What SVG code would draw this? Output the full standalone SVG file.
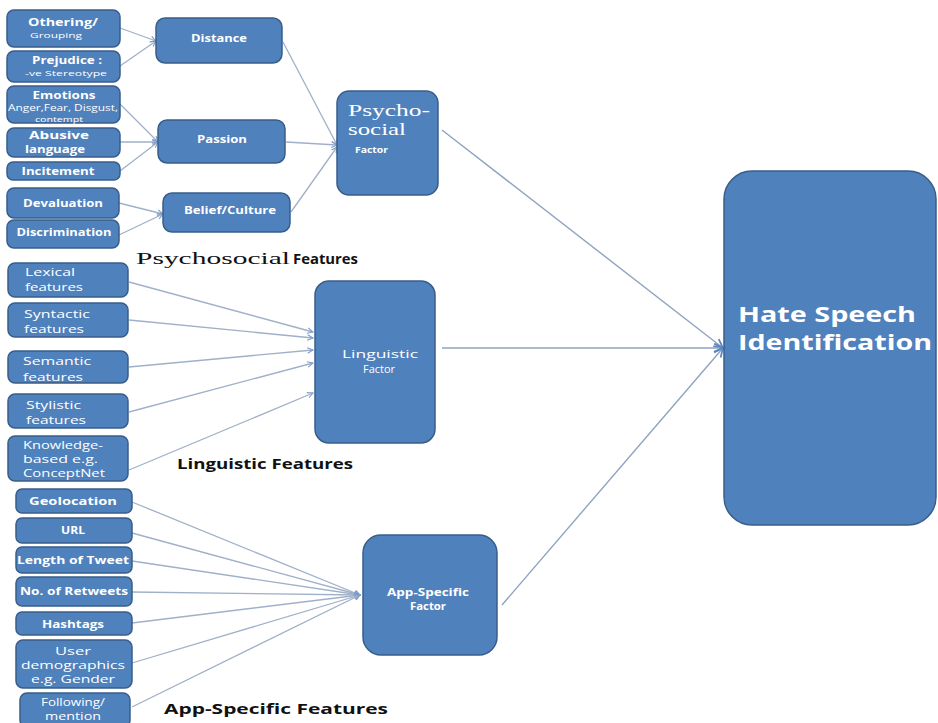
<svg xmlns="http://www.w3.org/2000/svg" width="938" height="723" viewBox="0 0 938 723">
  <defs>
    <marker id="arr" viewBox="0 0 10 10" refX="9" refY="5" markerWidth="7" markerHeight="7" orient="auto" markerUnits="userSpaceOnUse">
      <path d="M1,1 L9,5 L1,9" fill="none" stroke="#7f9cc8" stroke-width="1.6"/>
    </marker>
    <marker id="arrBig" viewBox="0 0 10 10" refX="9" refY="5" markerWidth="11" markerHeight="11" orient="auto" markerUnits="userSpaceOnUse">
      <path d="M1,1 L9,5 L1,9" fill="none" stroke="#5a86c0" stroke-width="1.6"/>
    </marker>
  </defs>
  <style>
    .box { fill: #4f81bd; stroke: #385d8a; stroke-width: 1.5; }
    .lnk { fill: none; stroke: #9fb0c8; stroke-width: 1.3; }
    .main { fill: none; stroke: #8fa3c0; stroke-width: 1.4; }
    .t { fill: #ffffff; font-family: "Open Sans", "Liberation Sans", sans-serif; }
    .b { font-weight: bold; }
    .c { text-anchor: middle; }
    .hd { fill: #111111; font-family: "Open Sans", "Liberation Sans", sans-serif; font-weight: bold; }
    .serif { font-family: "Liberation Serif", "DejaVu Serif", serif; }
  </style>
  <rect width="938" height="723" fill="#ffffff"/>

  <!-- connectors -->
  <g id="connectors">
    <line class="lnk" x1="120" y1="28" x2="156" y2="41" marker-end="url(#arr)"/>
    <line class="lnk" x1="120" y1="66" x2="156" y2="41" marker-end="url(#arr)"/>
    <line class="lnk" x1="120" y1="104" x2="158" y2="142" marker-end="url(#arr)"/>
    <line class="lnk" x1="120" y1="142" x2="158" y2="142" marker-end="url(#arr)"/>
    <line class="lnk" x1="120" y1="171" x2="158" y2="142" marker-end="url(#arr)"/>
    <line class="lnk" x1="119" y1="203" x2="163" y2="214" marker-end="url(#arr)"/>
    <line class="lnk" x1="119" y1="235" x2="163" y2="214" marker-end="url(#arr)"/>
    <line class="lnk" x1="283" y1="42" x2="337" y2="145" marker-end="url(#arr)"/>
    <line class="lnk" x1="286" y1="142" x2="337" y2="145" marker-end="url(#arr)"/>
    <line class="lnk" x1="291" y1="212" x2="337" y2="147" marker-end="url(#arr)"/>

    <line class="lnk" x1="129" y1="282" x2="313" y2="332" marker-end="url(#arr)"/>
    <line class="lnk" x1="129" y1="320" x2="313" y2="338" marker-end="url(#arr)"/>
    <line class="lnk" x1="129" y1="367" x2="313" y2="350" marker-end="url(#arr)"/>
    <line class="lnk" x1="129" y1="412" x2="313" y2="363" marker-end="url(#arr)"/>
    <line class="lnk" x1="129" y1="470" x2="313" y2="393" marker-end="url(#arr)"/>

    <line class="lnk" x1="132" y1="502" x2="360" y2="595" marker-end="url(#arr)"/>
    <line class="lnk" x1="132" y1="533" x2="360" y2="595" marker-end="url(#arr)"/>
    <line class="lnk" x1="132" y1="561" x2="360" y2="595" marker-end="url(#arr)"/>
    <line class="lnk" x1="132" y1="592" x2="360" y2="595" marker-end="url(#arr)"/>
    <line class="lnk" x1="132" y1="623" x2="360" y2="595" marker-end="url(#arr)"/>
    <line class="lnk" x1="132" y1="663" x2="360" y2="595" marker-end="url(#arr)"/>
    <line class="lnk" x1="132" y1="707" x2="360" y2="595" marker-end="url(#arr)"/>

    <line class="main" x1="442" y1="130" x2="723" y2="348" marker-end="url(#arrBig)"/>
    <line class="main" x1="442" y1="348" x2="723" y2="348" stroke="#6f8db5" marker-end="url(#arrBig)"/>
    <line class="main" x1="502" y1="605" x2="723" y2="348" marker-end="url(#arrBig)"/>
  </g>

  <!-- psychosocial feature boxes -->
  <g id="othering">
    <rect class="box" x="7" y="10" width="113" height="37" rx="7"/>
    <text class="t b c" x="63" y="26" font-size="11" textLength="70" lengthAdjust="spacingAndGlyphs">Othering/</text>
    <text class="t c" x="56" y="38" font-size="8" textLength="52" lengthAdjust="spacingAndGlyphs">Grouping</text>
  </g>
  <g id="prejudice">
    <rect class="box" x="7" y="51" width="113" height="31" rx="7"/>
    <text class="t b c" x="67" y="64" font-size="11" textLength="70" lengthAdjust="spacingAndGlyphs">Prejudice :</text>
    <text class="t c" x="66" y="76" font-size="8" textLength="82" lengthAdjust="spacingAndGlyphs">-ve Stereotype</text>
  </g>
  <g id="emotions">
    <rect class="box" x="7" y="86" width="113" height="37" rx="7"/>
    <text class="t b c" x="64" y="99" font-size="11" textLength="63" lengthAdjust="spacingAndGlyphs">Emotions</text>
    <text class="t c" x="63" y="111" font-size="9" textLength="110" lengthAdjust="spacingAndGlyphs">Anger,Fear, Disgust,</text>
    <text class="t c" x="59" y="122" font-size="8" textLength="48" lengthAdjust="spacingAndGlyphs">contempt</text>
  </g>
  <g id="abusive">
    <rect class="box" x="7" y="128" width="113" height="29" rx="7"/>
    <text class="t b c" x="59" y="139" font-size="11" textLength="60" lengthAdjust="spacingAndGlyphs">Abusive</text>
    <text class="t b c" x="55" y="153" font-size="11" textLength="60" lengthAdjust="spacingAndGlyphs">language</text>
  </g>
  <g id="incitement">
    <rect class="box" x="7" y="162" width="113" height="18" rx="6"/>
    <text class="t b c" x="58" y="175" font-size="11" textLength="73" lengthAdjust="spacingAndGlyphs">Incitement</text>
  </g>
  <g id="devaluation">
    <rect class="box" x="7" y="188" width="112" height="30" rx="7"/>
    <text class="t b c" x="63" y="207" font-size="11" textLength="80" lengthAdjust="spacingAndGlyphs">Devaluation</text>
  </g>
  <g id="discrimination">
    <rect class="box" x="7" y="220" width="112" height="28" rx="7"/>
    <text class="t b c" x="64" y="236" font-size="11" textLength="95" lengthAdjust="spacingAndGlyphs">Discrimination</text>
  </g>

  <!-- intermediate psychosocial nodes -->
  <g id="distance">
    <rect class="box" x="156" y="18" width="126" height="45" rx="9"/>
    <text class="t b c" x="219" y="42" font-size="10" textLength="56" lengthAdjust="spacingAndGlyphs">Distance</text>
  </g>
  <g id="passion">
    <rect class="box" x="158" y="120" width="127" height="43" rx="9"/>
    <text class="t b c" x="222" y="143" font-size="10" textLength="50" lengthAdjust="spacingAndGlyphs">Passion</text>
  </g>
  <g id="belief">
    <rect class="box" x="163" y="193" width="127" height="39" rx="9"/>
    <text class="t b c" x="230" y="214" font-size="10" textLength="92" lengthAdjust="spacingAndGlyphs">Belief/Culture</text>
  </g>
  <g id="psychosocial-factor">
    <rect class="box" x="337" y="91" width="101" height="104" rx="12"/>
    <text class="serif" fill="#ffffff" x="348" y="116" font-size="16" textLength="82" lengthAdjust="spacingAndGlyphs">Psycho-</text>
    <text class="serif" fill="#ffffff" x="348" y="135" font-size="16" textLength="58" lengthAdjust="spacingAndGlyphs">social</text>
    <text class="t b" x="355" y="153" font-size="8.5" textLength="33" lengthAdjust="spacingAndGlyphs">Factor</text>
  </g>

  <!-- linguistic feature boxes -->
  <g id="lexical">
    <rect class="box" x="8" y="263" width="120" height="34" rx="7"/>
    <text class="t" x="25" y="276" font-size="11" textLength="50" lengthAdjust="spacingAndGlyphs">Lexical</text>
    <text class="t" x="25" y="291" font-size="11" textLength="58" lengthAdjust="spacingAndGlyphs">features</text>
  </g>
  <g id="syntactic">
    <rect class="box" x="8" y="303" width="120" height="34" rx="7"/>
    <text class="t" x="24" y="318" font-size="11" textLength="66" lengthAdjust="spacingAndGlyphs">Syntactic</text>
    <text class="t" x="24" y="333" font-size="11" textLength="60" lengthAdjust="spacingAndGlyphs">features</text>
  </g>
  <g id="semantic">
    <rect class="box" x="8" y="351" width="120" height="32" rx="7"/>
    <text class="t" x="23" y="365" font-size="11" textLength="68" lengthAdjust="spacingAndGlyphs">Semantic</text>
    <text class="t" x="23" y="381" font-size="11" textLength="60" lengthAdjust="spacingAndGlyphs">features</text>
  </g>
  <g id="stylistic">
    <rect class="box" x="8" y="394" width="120" height="34" rx="7"/>
    <text class="t" x="26" y="409" font-size="11" textLength="55" lengthAdjust="spacingAndGlyphs">Stylistic</text>
    <text class="t" x="26" y="424" font-size="11" textLength="60" lengthAdjust="spacingAndGlyphs">features</text>
  </g>
  <g id="knowledge">
    <rect class="box" x="8" y="436" width="120" height="45" rx="7"/>
    <text class="t" x="23" y="449" font-size="11" textLength="80" lengthAdjust="spacingAndGlyphs">Knowledge-</text>
    <text class="t" x="23" y="463" font-size="11" textLength="75" lengthAdjust="spacingAndGlyphs">based e.g.</text>
    <text class="t" x="23" y="477" font-size="11" textLength="82" lengthAdjust="spacingAndGlyphs">ConceptNet</text>
  </g>
  <g id="linguistic-factor">
    <rect class="box" x="315" y="281" width="120" height="162" rx="14"/>
    <text class="t c" x="380" y="358" font-size="10" textLength="76" lengthAdjust="spacingAndGlyphs">Linguistic</text>
    <text class="t c" x="379" y="373" font-size="10" textLength="32" lengthAdjust="spacingAndGlyphs">Factor</text>
  </g>

  <!-- app-specific feature boxes -->
  <g id="geolocation">
    <rect class="box" x="16" y="489" width="116" height="24" rx="6"/>
    <text class="t b c" x="73" y="505" font-size="11" textLength="88" lengthAdjust="spacingAndGlyphs">Geolocation</text>
  </g>
  <g id="url">
    <rect class="box" x="16" y="518" width="116" height="25" rx="6"/>
    <text class="t b c" x="73" y="534" font-size="11" textLength="24" lengthAdjust="spacingAndGlyphs">URL</text>
  </g>
  <g id="length">
    <rect class="box" x="16" y="547" width="116" height="26" rx="6"/>
    <text class="t b c" x="73" y="564" font-size="11" textLength="112" lengthAdjust="spacingAndGlyphs">Length of Tweet</text>
  </g>
  <g id="retweets">
    <rect class="box" x="16" y="577" width="116" height="29" rx="6"/>
    <text class="t b c" x="74" y="595" font-size="11" textLength="108" lengthAdjust="spacingAndGlyphs">No. of Retweets</text>
  </g>
  <g id="hashtags">
    <rect class="box" x="16" y="612" width="116" height="23" rx="6"/>
    <text class="t b c" x="73" y="628" font-size="11" textLength="62" lengthAdjust="spacingAndGlyphs">Hashtags</text>
  </g>
  <g id="demographics">
    <rect class="box" x="16" y="640" width="116" height="48" rx="7"/>
    <text class="t c" x="73" y="655" font-size="11" textLength="36" lengthAdjust="spacingAndGlyphs">User</text>
    <text class="t c" x="73" y="669" font-size="11" textLength="104" lengthAdjust="spacingAndGlyphs">demographics</text>
    <text class="t c" x="73" y="683" font-size="11" textLength="84" lengthAdjust="spacingAndGlyphs">e.g. Gender</text>
  </g>
  <g id="following">
    <rect class="box" x="20" y="693" width="110" height="34" rx="7"/>
    <text class="t c" x="73" y="706" font-size="11" textLength="64" lengthAdjust="spacingAndGlyphs">Following/</text>
    <text class="t c" x="73" y="720" font-size="11" textLength="56" lengthAdjust="spacingAndGlyphs">mention</text>
  </g>
  <g id="app-factor">
    <rect class="box" x="363" y="535" width="134" height="120" rx="18"/>
    <text class="t b c" x="428" y="596" font-size="10.5" textLength="82" lengthAdjust="spacingAndGlyphs">App-Specific</text>
    <text class="t b c" x="428" y="610" font-size="10.5" textLength="36" lengthAdjust="spacingAndGlyphs">Factor</text>
  </g>

  <!-- target node -->
  <g id="hate-speech">
    <rect class="box" x="724" y="171" width="212" height="354" rx="28"/>
    <text class="t b" x="738" y="322" font-size="21" textLength="178" lengthAdjust="spacingAndGlyphs">Hate Speech</text>
    <text class="t b" x="738" y="350" font-size="21" textLength="194" lengthAdjust="spacingAndGlyphs">Identification</text>
  </g>

  <!-- group headings -->
  <g id="headings">
    <text class="serif" x="136" y="264" fill="#111111" font-size="17" textLength="154" lengthAdjust="spacingAndGlyphs">Psychosocial</text>
    <text class="hd" x="293" y="264" font-size="15" textLength="65" lengthAdjust="spacingAndGlyphs">Features</text>
    <text class="hd" x="177" y="469" font-size="15" textLength="176" lengthAdjust="spacingAndGlyphs">Linguistic Features</text>
    <text class="hd" x="164" y="714" font-size="15" textLength="224" lengthAdjust="spacingAndGlyphs">App-Specific Features</text>
  </g>
</svg>
